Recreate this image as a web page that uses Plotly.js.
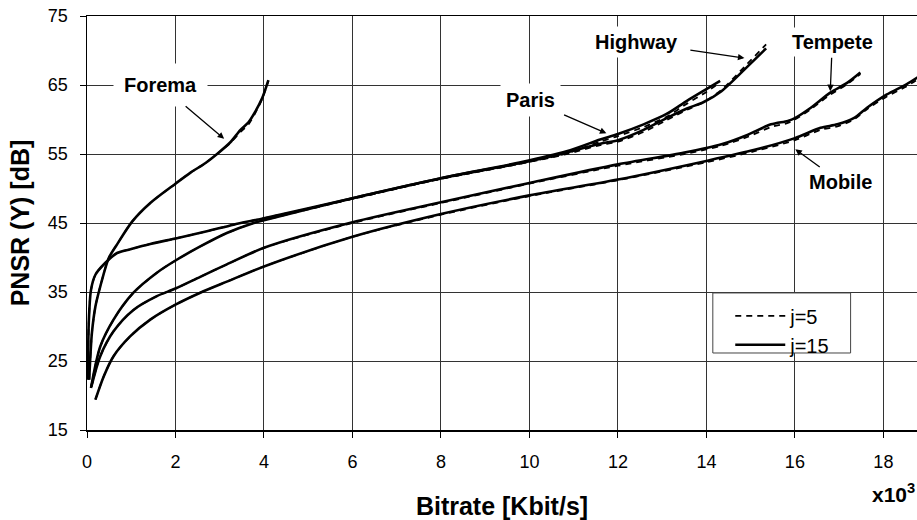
<!DOCTYPE html>
<html><head><meta charset="utf-8">
<script src="https://cdn.plot.ly/plotly-3.0.1.min.js"></script>
<style>body{margin:0;background:#fff;} #chart{width:917px;height:520px;}</style>
</head><body><div id="chart"></div>
<script>
// Bitrate in Kbit/s x10^3, PSNR in dB
const foremaX   = [0.05, 0.06, 0.11, 0.19, 0.30, 0.49, 0.68, 1.02, 1.43, 2.00, 2.34, 2.68, 2.94, 3.24, 3.47, 3.65, 3.80, 3.96, 4.10];
const foremaJ15 = [22.3, 23.7, 29.0, 32.9, 35.8, 39.9, 41.9, 45.2, 47.9, 50.7, 52.3, 53.7, 55.0, 56.7, 58.5, 59.6, 61.1, 63.1, 65.7];
const foremaJ5  = [22.3, 23.7, 29.0, 32.9, 35.8, 39.9, 41.9, 45.2, 47.9, 50.7, 52.3, 53.7, 55.0, 56.6, 58.2, 59.3, 60.9, 63.0, 65.6];

const highwayX   = [0.02, 0.04, 0.09, 0.19, 0.41, 0.68, 0.98, 1.43, 2.03, 2.71, 3.31, 4.00, 6.00, 8.00, 9.80, 10.84, 11.60, 12.00, 12.58, 13.10, 13.56, 13.93, 14.34, 14.87, 15.35];
const highwayJ15 = [22.3, 30.5, 35.3, 37.5, 39.2, 40.65, 41.2, 41.96, 42.8, 43.8, 44.76, 45.7, 48.6, 51.5, 53.7, 55.2, 56.5, 57.0, 58.5, 60.2, 61.6, 62.5, 64.1, 67.3, 70.3];
const highwayJ5  = [22.3, 30.5, 35.3, 37.5, 39.2, 40.65, 41.2, 41.96, 42.8, 43.8, 44.76, 45.7, 48.5, 51.4, 53.6, 55.0, 56.3, 56.8, 58.2, 59.9, 61.4, 62.5, 64.3, 67.7, 70.9];

const parisX   = [0.09, 0.30, 0.60, 1.05, 1.58, 2.01, 2.56, 3.16, 3.77, 4.00, 6.00, 8.00, 9.80, 10.84, 11.60, 12.00, 12.58, 13.10, 13.56, 14.00, 14.31];
const parisJ15 = [21.1, 27.1, 31.0, 34.9, 37.8, 39.6, 41.6, 43.55, 45.0, 45.4, 48.6, 51.5, 53.8, 55.4, 57.1, 57.9, 59.3, 60.8, 62.7, 64.4, 65.6];
const parisJ5  = [21.1, 27.1, 31.0, 34.9, 37.8, 39.6, 41.6, 43.55, 45.0, 45.4, 48.5, 51.4, 53.6, 55.1, 56.8, 57.6, 58.9, 60.4, 62.3, 64.0, 65.4];

const tempeteX   = [0.10, 0.30, 0.60, 1.05, 1.58, 2.00, 2.56, 3.16, 4.00, 6.00, 8.00, 10.00, 12.00, 13.50, 14.34, 14.94, 15.46, 15.84, 16.00, 16.36, 16.80, 17.18, 17.48];
const tempeteJ15 = [21.3, 25.7, 29.3, 32.4, 34.4, 35.5, 37.2, 39.0, 41.4, 45.1, 48.0, 50.8, 53.5, 55.2, 56.4, 57.8, 59.3, 59.8, 60.2, 61.7, 63.9, 65.3, 66.8];
const tempeteJ5  = [21.3, 25.7, 29.3, 32.4, 34.4, 35.5, 37.2, 39.0, 41.4, 45.0, 47.9, 50.7, 53.3, 55.0, 56.2, 57.5, 58.9, 59.5, 60.0, 61.5, 63.6, 65.1, 66.6];

const mobileX   = [0.19, 0.38, 0.60, 0.98, 1.43, 2.01, 2.56, 3.16, 4.00, 6.00, 8.00, 10.00, 12.00, 14.00, 15.09, 16.00, 16.58, 16.96, 17.33, 17.63, 18.07, 18.52, 18.82];
const mobileJ15 = [19.4, 22.8, 25.7, 28.6, 31.0, 33.2, 34.9, 36.5, 38.7, 43.0, 46.3, 49.0, 51.3, 54.0, 55.6, 57.3, 58.8, 59.3, 60.2, 61.7, 63.6, 65.1, 66.3];
const mobileJ5  = [19.4, 22.8, 25.7, 28.6, 31.0, 33.2, 34.9, 36.5, 38.7, 43.0, 46.2, 48.9, 51.2, 53.8, 55.4, 57.0, 58.5, 59.0, 60.0, 61.5, 63.3, 64.8, 66.0];

const seqNames = ['Forema', 'Highway', 'Paris', 'Tempete', 'Mobile'];
const seqX   = [foremaX, highwayX, parisX, tempeteX, mobileX];
const seqJ5  = [foremaJ5, highwayJ5, parisJ5, tempeteJ5, mobileJ5];
const seqJ15 = [foremaJ15, highwayJ15, parisJ15, tempeteJ15, mobileJ15];
const legendNames = ['j=5', 'j=15'];

const FONT = 'Liberation Sans, Arial, sans-serif';
const traces = [];
seqNames.forEach((nm, i) => {
  traces.push({
    x: seqX[i], y: seqJ5[i], type: 'scatter', mode: 'lines',
    name: legendNames[0], legendgroup: 'j5', showlegend: i === 0,
    line: {color: '#000', width: 1.8, dash: '6px,5px', shape: 'spline', smoothing: 0.8},
    hoverinfo: 'x+y'
  });
});
seqNames.forEach((nm, i) => {
  traces.push({
    x: seqX[i], y: seqJ15[i], type: 'scatter', mode: 'lines',
    name: legendNames[1], legendgroup: 'j15', showlegend: i === 0,
    line: {color: '#000', width: 2.6, shape: 'spline', smoothing: 0.8},
    hoverinfo: 'x+y'
  });
});

const labelFont = {family: FONT, size: 20, color: '#000', weight: 'bold'};
function callout(text, x, y, ax, ay, pad, gap) {
  return {text: text, x: x, y: y, xref: 'x', yref: 'y', showarrow: true,
          ax: ax, ay: ay, arrowhead: 2, arrowsize: 1, arrowwidth: 1.3, arrowcolor: '#000',
          startstandoff: gap, font: labelFont, bgcolor: '#fff', borderpad: pad};
}

const layout = {
  width: 917, height: 520,
  margin: {l: 87, r: 0, t: 16, b: 90},
  paper_bgcolor: '#fff', plot_bgcolor: '#fff',
  font: {family: FONT, size: 18, color: '#000'},
  showlegend: true,
  legend: {x: 0.775, y: 0.323, xanchor: 'left', yanchor: 'top',
           bgcolor: 'rgba(0,0,0,0)', borderwidth: 0, itemwidth: 50,
           font: {family: FONT, size: 20, color: '#000'}, tracegroupgap: 0},
  shapes: [
    {type: 'rect', xref: 'paper', yref: 'paper', x0: 0.754, x1: 0.920, y0: 0.186, y1: 0.331,
     fillcolor: '#fff', line: {color: '#444', width: 1}, layer: 'above'}
  ],
  xaxis: {
    range: [0, 18.76], dtick: 2, tick0: 0,
    showgrid: true, gridcolor: '#333', gridwidth: 1,
    showline: true, linecolor: '#000', linewidth: 1.5, mirror: true,
    ticks: 'outside', ticklen: 6, tickcolor: '#000', ticklabelstandoff: 9,
    zeroline: false,
    tickfont: {family: FONT, size: 18, color: '#000'},
    title: {text: 'Bitrate [Kbit/s]', font: {family: FONT, size: 25, color: '#000', weight: 'bold'}, standoff: 27}
  },
  yaxis: {
    range: [15, 75], dtick: 10, tick0: 15,
    showgrid: true, gridcolor: '#333', gridwidth: 1,
    showline: true, linecolor: '#000', linewidth: 1.5,
    ticks: 'outside', ticklen: 6, tickcolor: '#000', ticklabelstandoff: 8,
    zeroline: false,
    tickfont: {family: FONT, size: 18, color: '#000'},
    title: {text: 'PNSR (Y) [dB]', font: {family: FONT, size: 25, color: '#000', weight: 'bold'}, standoff: 11}
  },
  annotations: [
    callout('Forema', 3.10, 57.2, -64, -54, 10, 0),
    callout('Paris', 11.74, 58.0, -76, -33, 5, 4),
    callout('Highway', 14.86, 68.9, -108, -16, 4, 8),
    callout('Tempete', 16.80, 64.1, 2, -49, 3, 1),
    callout('Mobile', 16.01, 55.7, 45, 33, 3, 1),
    {text: 'x10<sup>3</sup>', xref: 'paper', yref: 'paper', x: 1, y: -0.152,
     xanchor: 'right', yanchor: 'middle', showarrow: false,
     font: {family: FONT, size: 21, color: '#000', weight: 'bold'}}
  ]
};

Plotly.newPlot('chart', traces, layout, {displayModeBar: false, staticPlot: true});
</script></body></html>
